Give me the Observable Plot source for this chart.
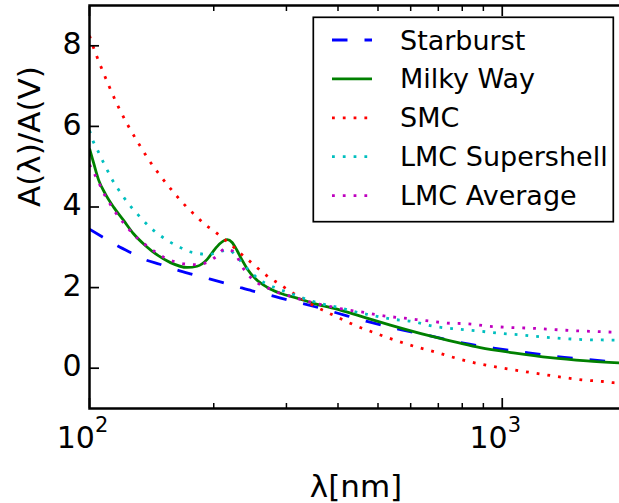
<!DOCTYPE html>
<html><head><meta charset="utf-8">
<script src="https://cdn.jsdelivr.net/npm/d3@7"></script>
<script src="https://cdn.jsdelivr.net/npm/@observablehq/plot@0.6"></script>
<style>
html,body{margin:0;padding:0;background:#fff;overflow:hidden;width:619px;height:503px;}
#chart{position:relative;width:626px;height:503px;}
#legend{position:absolute;left:0;top:0;pointer-events:none;}
</style></head><body><div id="chart"></div>
<script>
// ---- data (wavelength in nm, A(λ)/A(V)) ----
const starburstLambda = [100, 107.3, 116.7, 125.7, 136.7, 148.0, 162.4, 175.6, 192.8, 209.6, 228.6, 247.7, 271.7, 295.5, 336.6, 397.9, 470.5, 556.1, 669.5, 806.1, 952.7, 1136.8, 1356.6, 1618, 2000];
const starburstA = [3.45, 3.26, 3.04, 2.87, 2.69, 2.58, 2.44, 2.34, 2.23, 2.13, 2.02, 1.92, 1.82, 1.72, 1.58, 1.37, 1.16, 0.975, 0.80, 0.62, 0.50, 0.39, 0.29, 0.215, 0.13];

const milkyWayLambda = [100, 102.4, 105.3, 109.3, 114.5, 121.1, 128.0, 136.7, 145.9, 157.1, 172.4, 182.3, 192.8, 200.0, 207.5, 215.5, 221.6, 227.8, 234.3, 240.9, 252.5, 269.2, 290.0, 318.4, 349.0, 405.3, 453.2, 535.7, 657.3, 777, 884.4, 1065, 1307, 1604, 1920, 2000];
const milkyWayA = [5.45, 5.08, 4.66, 4.32, 3.99, 3.66, 3.33, 3.04, 2.81, 2.62, 2.50, 2.53, 2.70, 2.92, 3.10, 3.19, 3.12, 2.92, 2.68, 2.47, 2.22, 2.01, 1.86, 1.74, 1.61, 1.44, 1.29, 1.07, 0.82, 0.64, 0.51, 0.38, 0.26, 0.18, 0.13, 0.12];

const smcLambda = [100, 101.9, 106.3, 111.4, 116.9, 123.4, 130.9, 139.2, 149.4, 160.9, 174.6, 182.3, 190.2, 200.0, 209.6, 219.5, 229.1, 239.6, 249.9, 261.9, 274.3, 288.4, 302.8, 318.4, 335.3, 352.6, 372.8, 394.2, 415.1, 438.3, 489.9, 547.7, 613.2, 688.4, 772.7, 868.3, 974.1, 1095, 1231, 1387, 1560, 1753, 1860, 2000];
const smcA = [8.25, 8.00, 7.51, 7.01, 6.53, 6.06, 5.61, 5.17, 4.74, 4.33, 3.93, 3.75, 3.57, 3.41, 3.24, 3.08, 2.90, 2.73, 2.57, 2.39, 2.23, 2.09, 1.94, 1.80, 1.66, 1.53, 1.41, 1.29, 1.18, 1.07, 0.88, 0.70, 0.54, 0.40, 0.25, 0.12, 0.025, -0.06, -0.14, -0.22, -0.29, -0.33, -0.36, -0.38];

const lmcSupershellLambda = [100, 101.9, 104.6, 107.3, 110.1, 113.2, 116.7, 120.7, 125.2, 130.0, 135.4, 141.1, 148.0, 155.6, 163.6, 172.4, 182.9, 194.5, 205.6, 217.4, 227.8, 236.4, 246.3, 258.4, 271.7, 287.3, 302.8, 320.7, 339.6, 359.1, 381.8, 405.3, 428.4, 479.0, 537.8, 604.4, 681.9, 769.7, 864.9, 974.1, 1095, 1236, 1390, 1565, 1759, 2000];
const lmcSupershellA = [5.90, 5.65, 5.41, 5.17, 4.94, 4.70, 4.48, 4.26, 4.04, 3.85, 3.65, 3.47, 3.30, 3.15, 3.03, 2.91, 2.85, 2.82, 2.89, 2.93, 2.76, 2.57, 2.38, 2.19, 2.07, 1.96, 1.88, 1.78, 1.69, 1.62, 1.55, 1.50, 1.43, 1.32, 1.22, 1.16, 1.04, 0.975, 0.93, 0.87, 0.83, 0.78, 0.74, 0.71, 0.70, 0.69];

const lmcAverageLambda = [100, 101.9, 105.0, 107.3, 110.6, 117.8, 122.2, 127.3, 132.9, 139.2, 145.9, 153.6, 162.4, 172.4, 182.9, 193.8, 203.8, 212.6, 222.8, 229.9, 236.4, 246.3, 259.4, 273.3, 288.9, 303.8, 321.2, 363.9, 409.2, 459.1, 516.0, 580.0, 653.6, 734.8, 828.9, 931.6, 1049.7, 1184, 1331, 1497, 1689, 1896, 2000];
const lmcAverageA = [5.05, 4.89, 4.64, 4.42, 4.18, 3.75, 3.55, 3.34, 3.16, 3.00, 2.85, 2.72, 2.63, 2.58, 2.57, 2.64, 2.79, 2.96, 2.90, 2.69, 2.46, 2.24, 2.07, 1.97, 1.86, 1.80, 1.72, 1.58, 1.47, 1.39, 1.30, 1.24, 1.18, 1.12, 1.10, 1.04, 1.01, 0.99, 0.96, 0.93, 0.91, 0.89, 0.88];

const seriesNames = ["Starburst", "Milky Way", "SMC", "LMC Supershell", "LMC Average"];
const seriesLambdas = [starburstLambda, milkyWayLambda, smcLambda, lmcSupershellLambda, lmcAverageLambda];
const seriesValues = [starburstA, milkyWayA, smcA, lmcSupershellA, lmcAverageA];
const seriesColors = ["#0000ff", "#008000", "#ff0000", "#00bfbf", "#bf00bf"];
const seriesDash = ["15.5,17", null, "2.8,8", "2.8,8", "2.8,8"];

const yTicks = [0, 2, 4, 6, 8];
const xMajorTicks = [100, 1000];
const xMinorTicks = [200, 300, 400, 500, 600, 700, 800, 900, 2000];
const xTickBase = ["10", "10"];
const xTickExp = ["2", "3"];
const xLabel = "λ[nm]";
const yLabel = "A(λ)/A(V)";

// ---- chart ----
const lineMarks = seriesNames.map((name, k) => {
  const rows = seriesLambdas[k].map((l, i) => ({lambda: l, a: seriesValues[k][i]}));
  return Plot.line(rows, {
    x: "lambda", y: "a", stroke: seriesColors[k], strokeWidth: 2.8,
    strokeDasharray: seriesDash[k] ?? undefined, strokeLinecap: "butt",
    curve: "monotone-x", clip: true
  });
});

const plot = Plot.plot({
  width: 626, height: 503,
  marginLeft: 89, marginRight: 0, marginTop: 5, marginBottom: 95,
  style: {fontFamily: "DejaVu Sans", fontSize: "30px", background: "white", maxWidth: "none", color: "black"},
  x: {type: "log", domain: [100, 2000]},
  y: {domain: [-1, 9]},
  marks: [
    ...lineMarks,
    Plot.frame({stroke: "black", strokeWidth: 2.5}),
    // inward ticks
    Plot.axisY(yTicks, {anchor: "left", tickSize: 10, dx: 10, fill: "none", strokeWidth: 1.7, label: null}),
    Plot.axisY(yTicks, {anchor: "right", tickSize: 10, dx: -3, fill: "none", strokeWidth: 1.7, label: null}),
    Plot.axisX(xMajorTicks, {anchor: "bottom", tickSize: 10, dy: -10, fill: "none", strokeWidth: 1.7, label: null}),
    Plot.axisX(xMinorTicks, {anchor: "bottom", tickSize: 5, dy: -5, fill: "none", strokeWidth: 1.5, label: null}),
    Plot.axisX(xMajorTicks, {anchor: "top", tickSize: 10, dy: 10, fill: "none", strokeWidth: 1.7, label: null}),
    Plot.axisX(xMinorTicks, {anchor: "top", tickSize: 5, dy: 5, fill: "none", strokeWidth: 1.5, label: null}),
    // tick labels
    Plot.axisY(yTicks, {anchor: "left", tickSize: 0, tickPadding: 8, dy: -1.5, stroke: "none", fill: "black", fontSize: 30, label: null}),
    Plot.axisX(xMajorTicks, {anchor: "bottom", tickSize: 0, tickPadding: 18, dx: -7, stroke: "none", fill: "black", fontSize: 30, label: null,
      tickFormat: d => xTickBase[xMajorTicks.indexOf(d)]}),
    // axis titles
    Plot.text([xLabel], {text: d => d, frameAnchor: "bottom", dy: 88, dx: -2, lineAnchor: "bottom", fontSize: 31, fill: "black"}),
    Plot.text([yLabel], {text: d => d, frameAnchor: "left", rotate: -90, dx: -49.7, lineAnchor: "bottom", fontSize: 31, fill: "black"})
  ]
});

// superscript exponents on the x tick labels
d3.select(plot).selectAll('g[aria-label="x-axis tick label"] text').each(function(_, i) {
  const t = d3.select(this);
  const base = t.text();
  t.text(null);
  t.append("tspan").text(base);
  t.append("tspan").attr("font-size", "21px").attr("dy", "-16").text(xTickExp[i]);
});

const chart = document.getElementById("chart");
chart.appendChild(plot);

// ---- legend ----
const lg = d3.select(chart).append("svg").attr("id", "legend")
  .attr("width", 626).attr("height", 503);
lg.append("rect").attr("x", 313.3).attr("y", 17.3).attr("width", 300).attr("height", 204.4)
  .attr("fill", "white").attr("stroke", "black").attr("stroke-width", 1.7);
seriesNames.forEach((name, k) => {
  const y = 40 + k * 38.9;
  const ln = lg.append("line").attr("x1", 332).attr("x2", 372).attr("y1", y).attr("y2", y)
    .attr("stroke", seriesColors[k]).attr("stroke-width", 2.8).attr("stroke-linecap", "butt");
  if (seriesDash[k]) ln.attr("stroke-dasharray", seriesDash[k]);
  lg.append("text").attr("x", 400).attr("y", y + 9.5)
    .attr("font-family", "DejaVu Sans").attr("font-size", 27).attr("fill", "black").text(name);
});
</script></body></html>
